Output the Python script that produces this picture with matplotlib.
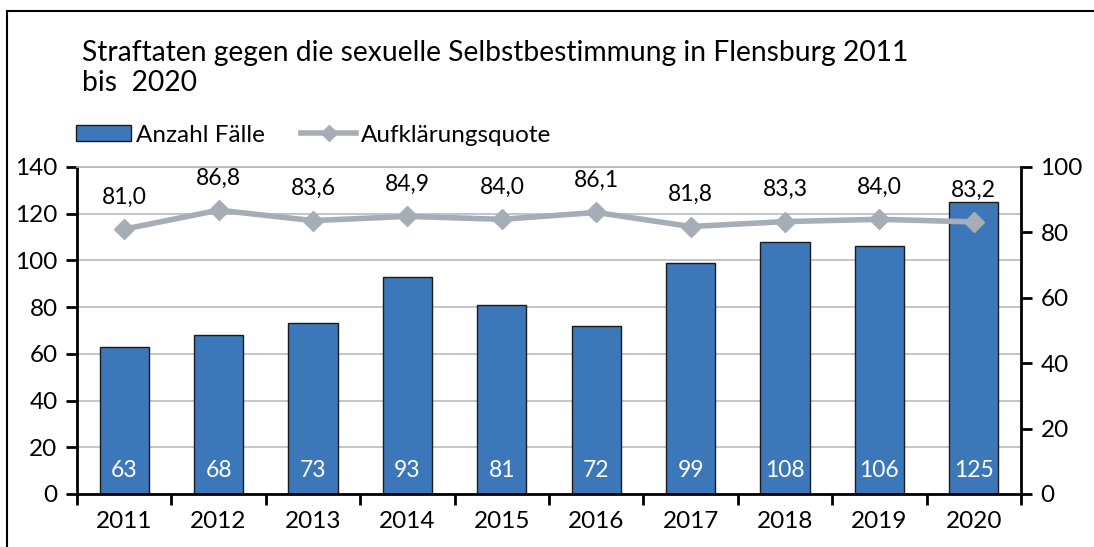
import matplotlib.pyplot as plt
from matplotlib.patches import Rectangle
from matplotlib.lines import Line2D

plt.rcParams['font.family'] = ['Lato', 'DejaVu Sans']

years = ['2011', '2012', '2013', '2014', '2015', '2016', '2017', '2018', '2019', '2020']
cases = [63, 68, 73, 93, 81, 72, 99, 108, 106, 125]
clearance = [81.0, 86.8, 83.6, 84.9, 84.0, 86.1, 81.8, 83.3, 84.0, 83.2]

bar_color = '#3c78b9'
line_color = '#a6adb6'
grid_color = '#b4bbc4'

fig = plt.figure(figsize=(10.94, 5.47), dpi=100)
ax = fig.add_axes([0.0704, 0.0969, 0.8629, 0.5978])
ax2 = ax.twinx()

x = list(range(len(years)))

# bars on the left axis
ax.bar(x, cases, width=0.52, color=bar_color, edgecolor='#1a1a1a', linewidth=1, zorder=2)
for xi, v in zip(x, cases):
    ax.text(xi, 10, str(v), ha='center', va='center', color='white', fontsize=16.5, zorder=3)

ax.set_ylim(0, 140)
ax.set_yticks(range(0, 141, 20))
ax.set_xlim(-0.5, len(years) - 0.5)
ax.set_xticks([i + 0.5 for i in range(-1, len(years))], minor=False)
ax.set_xticklabels([])
ax.set_xticks(x, minor=True)
ax.set_xticklabels(years, minor=True)
ax.tick_params(axis='x', which='major', length=8, width=2, direction='out')
ax.tick_params(axis='x', which='minor', length=0, pad=12, labelsize=17.5)
ax.tick_params(axis='y', length=8, width=2, labelsize=17.5, pad=6)
ax.grid(axis='y', color=grid_color, linewidth=1.2, zorder=0)
ax.set_axisbelow(True)
for s in ['left', 'bottom']:
    ax.spines[s].set_linewidth(2)
ax.spines['top'].set_color(grid_color)
ax.spines['top'].set_linewidth(1.2)
ax.spines['right'].set_visible(False)

# line on the right axis
ax2.plot(x, clearance, color=line_color, linewidth=4, marker='D', markersize=10, zorder=4)
for xi, v in zip(x, clearance):
    ax2.annotate(f'{v:.1f}'.replace('.', ','), (xi, v), xytext=(0, 23), textcoords='offset points',
                 ha='center', va='center', fontsize=16.5)
ax2.set_ylim(0, 100)
ax2.set_yticks(range(0, 101, 20))
ax2.tick_params(axis='y', length=8, width=2, labelsize=17.5, pad=6)
ax2.spines['right'].set_linewidth(2)
ax2.spines['top'].set_visible(False)
ax2.spines['left'].set_visible(False)
ax2.spines['bottom'].set_visible(False)

fig.text(0.075, 0.875, 'Straftaten gegen die sexuelle Selbstbestimmung in Flensburg 2011\nbis  2020',
         ha='left', va='center', fontsize=20.3, linespacing=1.2)

handles = [Rectangle((0, 0), 1, 1, facecolor=bar_color, edgecolor='#1a1a1a', linewidth=1),
           Line2D([0], [0], color=line_color, linewidth=4, marker='D', markersize=8)]
fig.legend(handles, ['Anzahl Fälle', 'Aufklärungsquote'], loc='center left',
           bbox_to_anchor=(0.0695, 0.753), ncol=2, frameon=False, fontsize=17.5,
           borderpad=0, borderaxespad=0, handleheight=0.6,
           handlelength=2.26, handletextpad=0.2, columnspacing=1.5)

# outer frame running past the right and bottom edges
fig.add_artist(Line2D([0.0064, 0.0064], [0, 0.98], transform=fig.transFigure, color='black', linewidth=1.5))
fig.add_artist(Line2D([0.0064, 1.0], [0.98, 0.98], transform=fig.transFigure, color='black', linewidth=1.5))

fig.savefig('out.png', dpi=100)
